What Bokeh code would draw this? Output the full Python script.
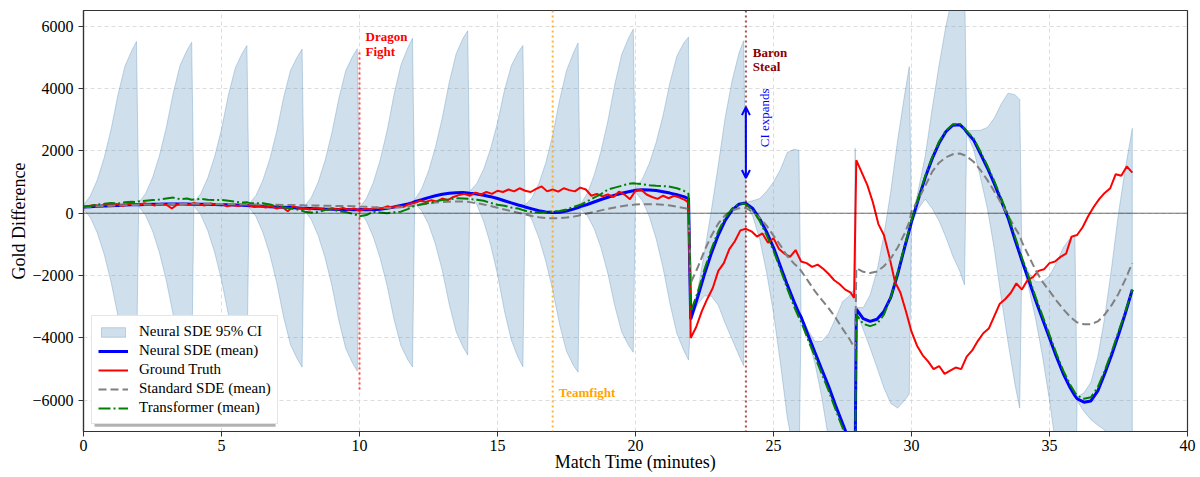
import numpy as np
from bokeh.plotting import figure
from bokeh.models import (Range1d, FixedTicker, CustomJSTickFormatter, Span, Label,
                          Legend, LegendItem, Arrow, OpenHead, BoxAnnotation)
from bokeh.embed import file_html
from bokeh.resources import INLINE

FONT = "Liberation Serif"

# ---------------- data ----------------
# model outputs are sampled inside 2-minute prediction windows
window_start = [0, 2, 4, 6, 8, 10, 12, 14, 16, 18, 20, 22, 24, 26, 28, 30, 32, 34, 36]
offsets_std = [0.0, 0.25, 0.5, 0.75, 1.0, 1.25, 1.5, 1.75, 1.92]
offsets_w13 = [0.0, 0.25, 0.5, 0.75, 1.0, 1.25, 1.5, 1.75, 1.92, 1.96]
offsets_last = [0.0, 0.25, 0.5, 0.75, 1.0, 1.25, 1.5, 1.75, 2.0]

neural_mean = [
    [200, 210, 220, 230, 240, 250, 260, 270, 275],
    [275, 280, 285, 290, 295, 295, 295, 295, 290],
    [290, 288, 285, 280, 275, 268, 260, 252, 245],
    [240, 230, 220, 210, 200, 190, 180, 170, 162],
    [155, 148, 140, 133, 127, 120, 115, 110, 107],
    [115, 110, 110, 130, 160, 200, 250, 300, 340],
    [370, 430, 500, 560, 610, 640, 655, 660, 650],
    [640, 615, 575, 530, 470, 400, 330, 265, 225],
    [200, 140, 80, 40, 20, 30, 70, 130, 180],
    [210, 280, 360, 440, 510, 580, 640, 690, 720],
    [735, 750, 745, 725, 690, 645, 590, 530, 470],
    [-3400, -2700, -1950, -1280, -700, -230, 100, 290, 320],
    [310, 150, -180, -600, -1100, -1700, -2300, -2850, -3200],
    [-3330, -3900, -4460, -5010, -5560, -6170, -6740, -7300, -7680, -7760],
    [-3080, -3380, -3470, -3400, -3150, -2700, -1950, -1100, -550],
    [-280, 450, 1150, 1750, 2250, 2620, 2820, 2840, 2700],
    [2600, 2350, 1900, 1450, 950, 400, -150, -850, -1300],
    [-1520, -2150, -2800, -3400, -4000, -4600, -5150, -5600, -5850],
    [-5950, -6060, -6020, -5700, -5150, -4550, -3900, -3200, -2450],
]

standard_mean = [
    [200, 210, 220, 230, 240, 250, 255, 260, 265],
    [270, 275, 280, 285, 290, 295, 298, 300, 300],
    [300, 300, 300, 298, 296, 294, 292, 290, 288],
    [285, 282, 278, 274, 270, 266, 262, 258, 255],
    [252, 248, 244, 240, 236, 232, 228, 224, 222],
    [215, 205, 190, 175, 170, 175, 190, 215, 240],
    [250, 280, 310, 340, 360, 370, 375, 372, 365],
    [355, 320, 280, 230, 175, 120, 65, 15, -20],
    [-40, -90, -130, -155, -165, -160, -140, -110, -80],
    [-60, -10, 40, 90, 140, 185, 225, 255, 270],
    [280, 290, 290, 285, 270, 245, 210, 170, 140],
    [-2230, -1750, -1200, -720, -330, -60, 90, 160, 170],
    [160, 40, -150, -400, -720, -1030, -1380, -1620, -1760],
    [-1850, -2170, -2500, -2780, -3050, -3350, -3700, -4030, -4300, -4350],
    [-1760, -1880, -1920, -1870, -1700, -1450, -1100, -650, -280],
    [50, 450, 880, 1330, 1620, 1790, 1890, 1915, 1860],
    [1820, 1650, 1380, 1060, 700, 320, -80, -470, -720],
    [-920, -1380, -1830, -2200, -2500, -2800, -3080, -3320, -3450],
    [-3500, -3560, -3560, -3470, -3250, -2950, -2580, -2120, -1600],
]

transformer_mean = [
    [200, 230, 280, 300, 330, 310, 350, 370, 360],
    [380, 400, 420, 440, 470, 500, 450, 470, 430],
    [440, 460, 430, 420, 430, 400, 370, 340, 350],
    [330, 320, 320, 280, 220, 190, 150, 120, 80],
    [50, 20, 40, 100, 130, 60, 40, -20, -60],
    [-100, -60, 50, 20, 0, 30, 50, 130, 210],
    [230, 290, 330, 380, 420, 440, 480, 470, 460],
    [450, 430, 400, 330, 270, 240, 180, 150, 100],
    [80, 40, 20, 30, 60, 70, 120, 200, 250],
    [270, 380, 500, 610, 760, 820, 880, 940, 960],
    [950, 930, 900, 880, 870, 850, 800, 720, 620],
    [-3150, -2550, -1800, -1150, -580, -150, 150, 300, 310],
    [280, 100, -250, -700, -1200, -1800, -2420, -3000, -3350],
    [-3480, -4050, -4600, -5150, -5700, -6300, -6880, -7400, -7800, -7850],
    [-3250, -3550, -3620, -3550, -3250, -2700, -1900, -1050, -500],
    [-220, 500, 1200, 1800, 2300, 2650, 2850, 2860, 2720],
    [2640, 2400, 1970, 1520, 1030, 480, -60, -750, -1200],
    [-1420, -2050, -2700, -3300, -3900, -4500, -5050, -5500, -5750],
    [-5850, -5950, -5900, -5580, -5050, -4450, -3800, -3150, -2450],
]

# half-width of the Neural SDE 95% CI around its mean
ci_halfwidth = [
    [60, 350, 850, 1550, 2450, 3550, 4450, 4950, 5230],
    [60, 350, 850, 1550, 2450, 3550, 4450, 4930, 5190],
    [60, 340, 840, 1530, 2420, 3520, 4400, 4880, 5130],
    [60, 340, 840, 1530, 2420, 3520, 4400, 4850, 5100],
    [60, 350, 850, 1550, 2450, 3550, 4450, 4920, 5170],
    [60, 360, 870, 1580, 2480, 3600, 4500, 5000, 5270],
    [60, 350, 850, 1550, 2450, 3550, 4450, 4950, 5200],
    [60, 340, 840, 1540, 2430, 3530, 4400, 4900, 5150],
    [60, 360, 870, 1580, 2480, 3600, 4500, 5010, 5280],
    [60, 350, 850, 1550, 2450, 3550, 4450, 4930, 5180],
    [60, 350, 850, 1550, 2450, 3550, 4450, 4930, 5180],
    [50, 220, 700, 1380, 2250, 3300, 4150, 4850, 5210],
    [40, 250, 650, 1300, 2100, 3100, 4250, 4900, 5220],
    [40, 150, 350, 900, 1700, 2800, 3900, 4650, 5250, 9840],
    [60, 350, 850, 1550, 2450, 3400, 4300, 4900, 5250],
    [50, 300, 700, 1600, 2500, 3400, 4200, 4700, 5000],
    [50, 300, 760, 1300, 2100, 3100, 4000, 4650, 4950],
    [50, 250, 600, 1200, 2000, 3000, 4050, 4800, 5150],
    [60, 300, 600, 1100, 1800, 2800, 3900, 4650, 5170],
]

# ground truth gold difference (every 0.2 min, plus samples just before the jumps)
truth_a = [180, 230, 260, 220, 280, 240, 300, 230, 280, 310,
           260, 320, 280, 250, 300, 270, 150, 280, 300, 260,
           330, 280, 250, 310, 270, 290, 220, 260, 230, 280,
           250, 200, 240, 180, 220, 150, 200, 60, 220, 170,
           160, 120, 180, 140, 100, 160, 120, 170, 110, 150,
           80, 140, 120, 180, 150, 220, 180, 240, 200, 300,
           330, 400, 360, 420, 380, 470, 420, 520, 580, 620,
           560, 660, 600, 680, 620, 720, 680, 760, 700, 800,
           720, 680, 780, 860, 700, 760, 690, 800, 740, 700,
           820, 760, 560, 620, 540, 600, 520, 690, 600, 450,
           720, 760, 600, 520, 460, 560, 480, 560, 500, 420]
truth_pre_22 = [320]
truth_b = [-4000, -3650, -3150, -2750, -2400, -1850, -1600, -1150, -900, -550,
           -500, -580, -750, -650, -950, -800, -1150, -1300, -1400, -1180,
           -1550, -1600, -1720, -1650, -1780, -1950, -2150, -2280, -2450, -2550]
truth_pre_28 = [-2720]
truth_c = [1700, 1300, 900, 350, -350, -700, -1400, -2200, -2550, -3150,
           -3800, -4250, -4550, -4750, -5000, -4900, -5150, -5050, -4950, -5000,
           -4600, -4400, -4100, -3850, -3700, -3300, -2900, -2750, -2550, -2250,
           -2450, -2150, -2050, -1850, -1800, -1600, -1550, -1400, -1300, -750,
           -700, -450, -100, 200, 450, 650, 800, 1250, 1200, 1500,
           1300]

x_ticks = [0, 5, 10, 15, 20, 25, 30, 35, 40]
y_ticks = [-6000, -4000, -2000, 0, 2000, 4000, 6000]
events = {"dragon": 10, "teamfight": 17, "baron": 24}

# ---------------- tables built from the data ----------------
offsets = [offsets_std] * 13 + [offsets_w13] + [offsets_std] * 4 + [offsets_last]
t = np.array([s + o for s, offs in zip(window_start, offsets) for o in offs])
neural = np.concatenate([np.array(r, float) for r in neural_mean])
standard = np.concatenate([np.array(r, float) for r in standard_mean])
transformer = np.concatenate([np.array(r, float) for r in transformer_mean])
hw = np.concatenate([np.array(r, float) for r in ci_halfwidth])
upper = neural + hw
lower = neural - hw

truth_t = np.concatenate([np.round(np.arange(len(truth_a)) * 0.2, 2), [21.93],
                          np.round(22 + np.arange(len(truth_b)) * 0.2, 2), [27.92],
                          np.round(28 + np.arange(len(truth_c)) * 0.2, 2)])
truth = np.array(truth_a + truth_pre_22 + truth_b + truth_pre_28 + truth_c, float)

Y0, Y1 = -7000, 6500

p = figure(width=1200, height=477, x_range=Range1d(0, 40), y_range=Range1d(Y0, Y1),
           output_backend="svg", toolbar_location=None,
           min_border_left=83, min_border_right=13, min_border_top=10, min_border_bottom=46,
           background_fill_color="white", border_fill_color="white")

p.xaxis.ticker = FixedTicker(ticks=x_ticks)
p.yaxis.ticker = FixedTicker(ticks=y_ticks)
p.yaxis.formatter = CustomJSTickFormatter(code="return tick < 0 ? '\u2212' + (-tick) : '' + tick;")
p.grid.grid_line_dash = "4 3"
p.grid.grid_line_color = "#cfcfcf"
p.grid.grid_line_alpha = 0.7
p.axis.major_tick_out = 5
p.axis.major_tick_in = 0
p.axis.minor_tick_line_color = None
p.axis.axis_line_color = "#333333"
p.axis.axis_line_width = 1.2
p.axis.major_tick_line_color = "#333333"
p.outline_line_color = "#333333"
p.outline_line_width = 1.2
p.outline_line_alpha = 1
p.axis.major_label_text_font = FONT
p.axis.major_label_text_font_size = "16px"
p.axis.major_label_text_color = "black"
p.axis.axis_label_text_font = FONT
p.axis.axis_label_text_font_size = "18px"
p.axis.axis_label_text_font_style = "normal"
p.axis.axis_label_text_color = "black"
p.xaxis.axis_label = "Match Time (minutes)"
p.yaxis.axis_label = "Gold Difference"
p.xaxis.major_label_standoff = 3
p.xaxis.axis_label_standoff = -2
p.yaxis.major_label_standoff = 5
p.yaxis.axis_label_standoff = 0

band = p.patch(x=np.concatenate([t, t[::-1]]), y=np.concatenate([upper, lower[::-1]]),
               fill_color="steelblue", fill_alpha=0.26,
               line_color="steelblue", line_alpha=0.3, line_width=1)
l_neural = p.line(t, neural, line_color="blue", line_width=3)
l_truth = p.line(truth_t, truth, line_color="red", line_width=2)
l_std = p.line(t, standard, line_color="gray", line_width=2, line_dash="8 4")
l_tr = p.line(t, transformer, line_color="green", line_width=2, line_dash="12 3 2 3")

p.add_layout(Span(location=0, dimension="width", line_color="black", line_alpha=0.55, line_width=1))
p.segment(x0=[events["dragon"]], y0=[Y0 + 0.1 * (Y1 - Y0)], x1=[events["dragon"]], y1=[Y0 + 0.9 * (Y1 - Y0)],
          line_color="red", line_alpha=0.7, line_width=2, line_dash="2 3")
p.add_layout(Span(location=events["teamfight"], dimension="height", line_color="orange",
                  line_alpha=0.8, line_width=2, line_dash="2 3"))
p.add_layout(Span(location=events["baron"], dimension="height", line_color="darkred",
                  line_alpha=0.7, line_width=2, line_dash="2 3"))

def lab(x, y, text, color, bold=True, **kw):
    p.add_layout(Label(x=x, y=y, text=text, text_font=FONT, text_font_size="13px",
                       text_font_style="bold" if bold else "normal", text_color=color, **kw))

lab(10.22, 5434, "Dragon", "red")
lab(10.22, 4954, "Fight", "red")
lab(24.25, 4922, "Baron", "darkred")
lab(24.25, 4474, "Steal", "darkred")
lab(17.22, -5980, "Teamfight", "orange")
lab(24.67, 3060, "CI expands", "blue", bold=False, angle=np.pi / 2,
    text_align="center", text_baseline="middle")

p.add_layout(Arrow(start=OpenHead(size=8, line_color="blue", line_width=2),
                   end=OpenHead(size=8, line_color="blue", line_width=2),
                   x_start=24, y_start=1130, x_end=24, y_end=3400,
                   line_color="blue", line_width=2))

# legend shadow
p.add_layout(BoxAnnotation(left=0.40, right=6.96, top=-3420, bottom=-6844,
                           fill_color="black", fill_alpha=0.3, line_color=None))

legend = Legend(items=[
    LegendItem(label="Neural SDE 95% CI", renderers=[band]),
    LegendItem(label="Neural SDE (mean)", renderers=[l_neural]),
    LegendItem(label="Ground Truth", renderers=[l_truth]),
    LegendItem(label="Standard SDE (mean)", renderers=[l_std]),
    LegendItem(label="Transformer (mean)", renderers=[l_tr]),
], location=(8, 7))
legend.label_text_font = FONT
legend.label_text_font_size = "15px"
legend.label_text_color = "black"
legend.label_height = 19
legend.glyph_height = 12
legend.glyph_width = 30
legend.label_standoff = 11
legend.label_width = 128
legend.padding = 6
legend.spacing = 0
legend.margin = 0
legend.border_line_color = "#cccccc"
legend.border_line_width = 1
legend.background_fill_color = "white"
legend.background_fill_alpha = 1
p.add_layout(legend)

open("out.html", "w").write(file_html(p, INLINE))
